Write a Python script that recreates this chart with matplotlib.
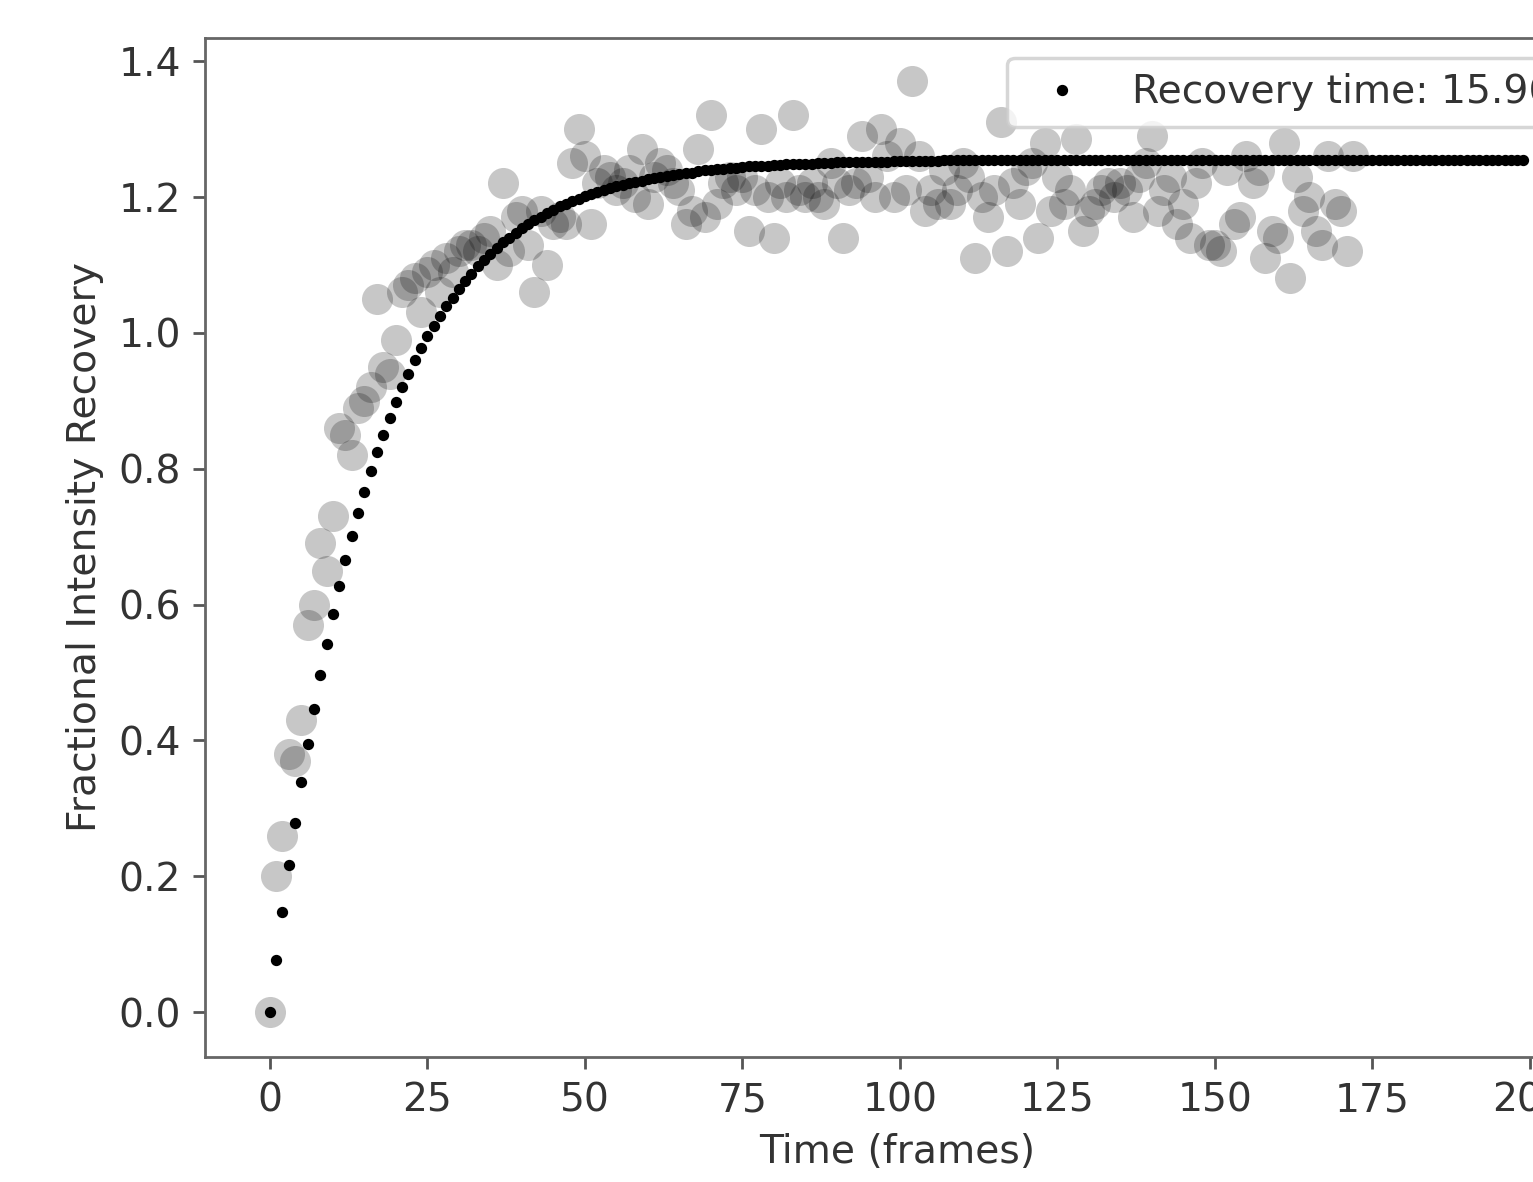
import matplotlib
matplotlib.use('Agg')
from matplotlib import pyplot as plt

# measured recovery (one value per frame)
frames = list(range(173))
recovery = [
    0.00, 0.20, 0.26, 0.38, 0.37, 0.43, 0.57, 0.60, 0.69, 0.65,
    0.73, 0.86, 0.85, 0.82, 0.89, 0.90, 0.92, 1.05, 0.95, 0.94,
    0.99, 1.06, 1.07, 1.08, 1.03, 1.09, 1.10, 1.06, 1.11, 1.09,
    1.12, 1.13, 1.13, 1.12, 1.14, 1.15, 1.10, 1.22, 1.12, 1.17,
    1.18, 1.13, 1.06, 1.18, 1.10, 1.16, 1.17, 1.16, 1.25, 1.30,
    1.26, 1.16, 1.22, 1.24, 1.23, 1.21, 1.22, 1.24, 1.20, 1.27,
    1.19, 1.23, 1.25, 1.24, 1.22, 1.21, 1.16, 1.18, 1.27, 1.17,
    1.32, 1.19, 1.22, 1.23, 1.21, 1.23, 1.15, 1.21, 1.30, 1.20,
    1.14, 1.22, 1.20, 1.32, 1.21, 1.20, 1.22, 1.20, 1.19, 1.25,
    1.22, 1.14, 1.21, 1.22, 1.29, 1.23, 1.20, 1.30, 1.26, 1.20,
    1.28, 1.21, 1.37, 1.26, 1.18, 1.21, 1.19, 1.24, 1.19, 1.21,
    1.25, 1.23, 1.11, 1.20, 1.17, 1.21, 1.31, 1.12, 1.22, 1.19,
    1.24, 1.25, 1.14, 1.28, 1.18, 1.23, 1.19, 1.21, 1.285, 1.15,
    1.18, 1.19, 1.21, 1.22, 1.20, 1.22, 1.21, 1.17, 1.23, 1.25,
    1.29, 1.18, 1.21, 1.23, 1.16, 1.19, 1.14, 1.22, 1.25, 1.13,
    1.13, 1.12, 1.24, 1.16, 1.17, 1.26, 1.22, 1.24, 1.11, 1.15,
    1.14, 1.28, 1.08, 1.23, 1.18, 1.20, 1.15, 1.13, 1.26, 1.19,
    1.18, 1.12, 1.26,
]

# fitted curve, evaluated at every frame
fit_frames = list(range(200))
fit_values = [
    0.000, 0.077, 0.148, 0.216, 0.279, 0.339, 0.395, 0.447, 0.496, 0.542,
    0.586, 0.627, 0.665, 0.701, 0.735, 0.766, 0.796, 0.824, 0.850, 0.875,
    0.898, 0.920, 0.940, 0.960, 0.978, 0.995, 1.010, 1.025, 1.039, 1.052,
    1.065, 1.076, 1.087, 1.098, 1.107, 1.116, 1.125, 1.133, 1.140, 1.147,
    1.154, 1.160, 1.166, 1.171, 1.176, 1.181, 1.186, 1.190, 1.194, 1.197,
    1.201, 1.204, 1.207, 1.210, 1.213, 1.216, 1.218, 1.220, 1.222, 1.224,
    1.226, 1.228, 1.230, 1.231, 1.233, 1.234, 1.235, 1.236, 1.238, 1.239,
    1.240, 1.241, 1.241, 1.242, 1.243, 1.244, 1.245, 1.245, 1.246, 1.246,
    1.247, 1.247, 1.248, 1.248, 1.249, 1.249, 1.249, 1.250, 1.250, 1.250,
    1.251, 1.251, 1.251, 1.251, 1.252, 1.252, 1.252, 1.252, 1.252, 1.253,
    1.253, 1.253, 1.253, 1.253, 1.253, 1.253, 1.253, 1.254, 1.254, 1.254,
    1.254, 1.254, 1.254, 1.254, 1.254, 1.254, 1.254, 1.254, 1.254, 1.254,
    1.254, 1.254, 1.254, 1.254, 1.254, 1.255, 1.255, 1.255, 1.255, 1.255,
    1.255, 1.255, 1.255, 1.255, 1.255, 1.255, 1.255, 1.255, 1.255, 1.255,
    1.255, 1.255, 1.255, 1.255, 1.255, 1.255, 1.255, 1.255, 1.255, 1.255,
    1.255, 1.255, 1.255, 1.255, 1.255, 1.255, 1.255, 1.255, 1.255, 1.255,
    1.255, 1.255, 1.255, 1.255, 1.255, 1.255, 1.255, 1.255, 1.255, 1.255,
    1.255, 1.255, 1.255, 1.255, 1.255, 1.255, 1.255, 1.255, 1.255, 1.255,
    1.255, 1.255, 1.255, 1.255, 1.255, 1.255, 1.255, 1.255, 1.255, 1.255,
    1.255, 1.255, 1.255, 1.255, 1.255, 1.255, 1.255, 1.255, 1.255, 1.255,
]
fit_label = 'Recovery time: 15.96'

plt.rcParams['font.size'] = 11.3

fig = plt.figure(figsize=(1533 / 250, 1182 / 250), dpi=250)
# axes runs off the right edge, like the cropped original
ax = fig.add_axes([205 / 1533, 125 / 1182, 1384 / 1533, 1019 / 1182])

ax.scatter(frames, recovery, s=80, color='k', alpha=0.22, linewidths=0)
ax.plot(fit_frames, fit_values, 'k.', markersize=4.5, label=fit_label)

ax.set_xlim(-10.3, 209.4)
ax.set_ylim(-0.066, 1.434)
ax.set_xlabel('Time (frames)', color='#333333')
ax.set_ylabel('Fractional Intensity Recovery', color='#333333')
ax.tick_params(colors='#555555', labelcolor='#333333')
for sp in ax.spines.values():
    sp.set_color('#666666')

leg = ax.legend(loc='upper right')
for t in leg.get_texts():
    t.set_color('#333333')

fig.savefig('out.png', dpi=250)
